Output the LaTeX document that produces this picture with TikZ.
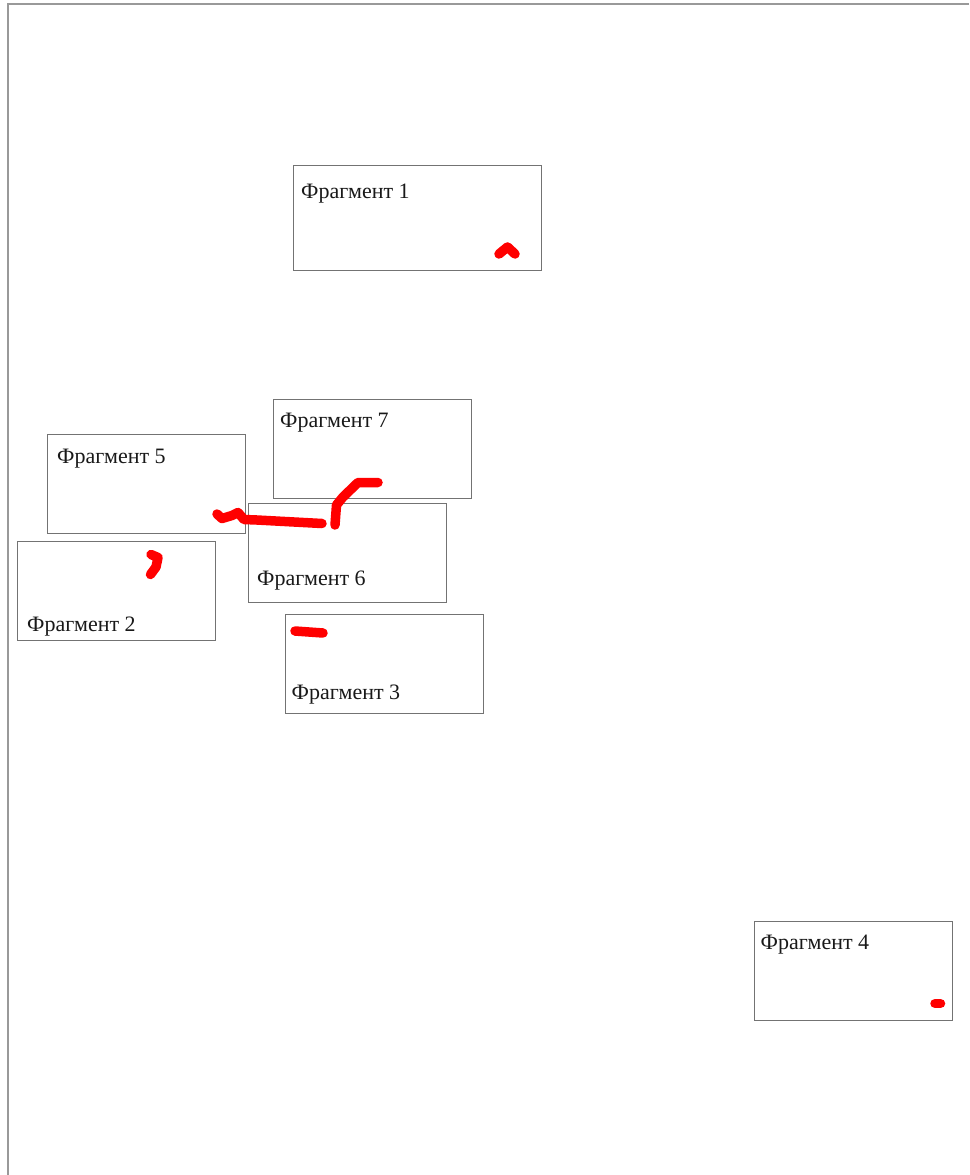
\documentclass[tikz,border=0pt]{standalone}
\usepackage{fontspec}
\setmainfont{Liberation Serif}
\begin{document}
\begin{tikzpicture}[x=1pt,y=-1pt,
  frag/.style={draw=black!55,line width=0.9pt,fill=none,inner sep=0pt},
  lbl/.style={anchor=base west,inner sep=0pt,font=\fontsize{22}{25}\selectfont,text=black!90},
  scribble/.style={draw=red,line width=9.5pt,line cap=round,line join=round}]
\useasboundingbox (0,0) rectangle (969,1175);
% page frame
\coordinate (ftr) at (969,4);
\coordinate (ftl) at (8,4);
\coordinate (fbl) at (8,1175);
\draw[black!40,line width=1.6pt] (ftr) -- (ftl) -- (fbl);
% boxes
\node[frag,minimum width=248pt,minimum height=105pt] (b1) at (417,217.5) {};
\node[frag,minimum width=198pt,minimum height=99pt] (b7) at (372,448.5) {};
\node[frag,minimum width=198pt,minimum height=99pt] (b5) at (146,483.5) {};
\node[frag,minimum width=198pt,minimum height=99pt] (b2) at (116,590.5) {};
\node[frag,minimum width=198pt,minimum height=99pt] (b6) at (347,552.5) {};
\node[frag,minimum width=198pt,minimum height=99pt] (b3) at (384,663.5) {};
\node[frag,minimum width=198pt,minimum height=99pt] (b4) at (853,970.5) {};
% labels
\node[lbl] (t1) at (301,198) {Фрагмент 1};
\node[lbl] (t7) at (280,427) {Фрагмент 7};
\node[lbl] (t5) at (57,463) {Фрагмент 5};
\node[lbl] (t2) at (27,631) {Фрагмент 2};
\node[lbl] (t6) at (257,585) {Фрагмент 6};
\node[lbl] (t3) at (291.5,699) {Фрагмент 3};
\node[lbl] (t4) at (760.5,949) {Фрагмент 4};
% red scribbles
\draw[scribble] (499,254) -- (507.5,247) -- (515,254);
\draw[scribble] (217,514) -- (222,518.5) -- (232,515.5) -- (238,512.5) -- (244,519.5) -- (257,520) -- (322,523.5);
\draw[scribble] (335,525) -- (336.5,505) -- (343,497) -- (358,482.5) -- (378,482.5);
\draw[scribble] (151,554.5) -- (158,557.5) -- (156,567) -- (150.5,574.5);
\draw[scribble] (295,631) -- (323,633);
\draw[scribble] (935,1003.5) -- (940.5,1003.5);
\end{tikzpicture}
\end{document}
